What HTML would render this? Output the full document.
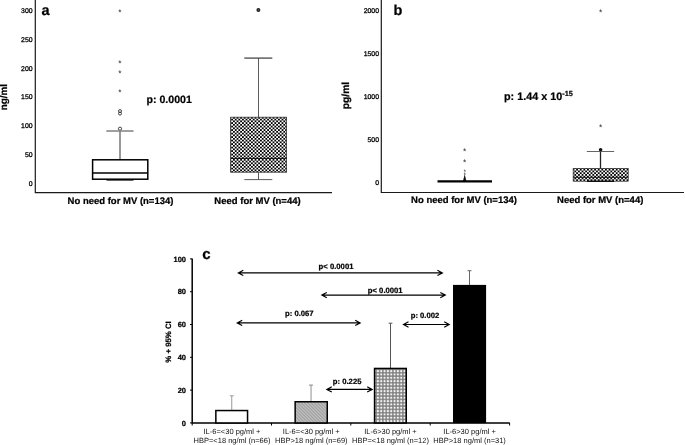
<!DOCTYPE html>
<html><head><meta charset="utf-8">
<style>
html,body{margin:0;padding:0;background:#fff;}
svg{display:block;filter:grayscale(1);text-rendering:geometricPrecision;font-family:"Liberation Sans",sans-serif;}
.b{font-weight:bold;stroke:#000;stroke-width:0.22px}
</style></head><body>
<svg width="685" height="445" viewBox="0 0 685 445">
<defs>
<pattern id="chka" x="231.2" y="118.7" width="3.6" height="3.5" patternUnits="userSpaceOnUse">
<rect width="3.6" height="3.5" fill="#fff"/><rect x="0" y="0" width="1.8" height="1.75" fill="#000"/><rect x="1.8" y="1.75" width="1.8" height="1.75" fill="#000"/>
</pattern>
<pattern id="chkb" x="576.2" y="168.8" width="3.6" height="3.5" patternUnits="userSpaceOnUse">
<rect width="3.6" height="3.5" fill="#fff"/><rect x="0" y="0" width="1.8" height="1.75" fill="#000"/><rect x="1.8" y="1.75" width="1.8" height="1.75" fill="#000"/>
</pattern>
<pattern id="hatch" width="2.3" height="2.3" patternUnits="userSpaceOnUse" patternTransform="rotate(45)">
<rect width="2.3" height="2.3" fill="#c4c4c4"/><rect width="2.3" height="1.15" fill="#9c9c9c"/>
</pattern>
<pattern id="grid" x="376.23" y="369.43" width="3.33" height="3.33" patternUnits="userSpaceOnUse">
<rect width="3.33" height="3.33" fill="#7c7c7c"/><rect x="0.665" y="0.665" width="2" height="2" fill="#f6f6f6"/>
</pattern>
</defs>
<rect width="685" height="445" fill="#fff"/>

<!-- PANEL A -->
<g id="pa">
<path d="M35.3,0 V192.7 H332" fill="none" stroke="#1a1a1a" stroke-width="1.2"/>
<g font-size="6.9" text-anchor="end" fill="#000" stroke="#000" stroke-width="0.28">
<text x="32.6" y="13">300</text><text x="32.6" y="41.8">250</text><text x="32.6" y="70.6">200</text><text x="32.6" y="99.4">150</text><text x="32.6" y="128.2">100</text><text x="32.6" y="157">50</text><text x="32.6" y="185.8">0</text>
</g>
<text class="b" font-size="9.9" text-anchor="middle" transform="translate(7.1,97.1) rotate(-90)">ng/ml</text>
<text class="b" font-size="14.5" x="41.5" y="14.6">a</text>
<g font-size="8.4" text-anchor="middle" fill="#222">
<text x="120" y="14.6">*</text><text x="120" y="66">*</text><text x="120" y="75.8">*</text><text x="120" y="94.7">*</text>
</g>
<g fill="none" stroke="#222" stroke-width="0.85">
<circle cx="120" cy="111.1" r="1.5"/><circle cx="120" cy="113.6" r="1.5"/><circle cx="120" cy="128.7" r="1.6"/>
</g>
<path d="M106.3,131 H133.5 M120,131 V160" stroke="#808080" stroke-width="1.6" fill="none"/>
<path d="M106.5,180 H133.5" stroke="#111" stroke-width="1.3" fill="none"/>
<rect x="92.6" y="159.8" width="55.2" height="19.4" fill="#fff" stroke="#000" stroke-width="1.5"/>
<path d="M92.6,173 H147.8" stroke="#000" stroke-width="1.5"/>
<text class="b" font-size="10.6" x="146.5" y="102.6">p: 0.0001</text>
<text class="b" font-size="9.5" text-anchor="middle" x="120.5" y="203.8">No need for MV (n=134)</text>
<text class="b" font-size="9.5" text-anchor="middle" x="257.5" y="203.8">Need for MV (n=44)</text>
<circle cx="258.4" cy="10" r="2" fill="#222"/><circle cx="258.7" cy="9.9" r="0.5" fill="#999"/>
<path d="M244.3,58.1 H272.3" stroke="#555" stroke-width="1.4" fill="none"/><path d="M258.5,58 V117 M258.5,172.3 V179.6 M244.3,179.6 H272.3" stroke="#4a4a4a" stroke-width="0.9" fill="none"/>
<rect x="230.6" y="117.2" width="56" height="55" fill="url(#chka)" stroke="#333" stroke-width="0.8"/>
<path d="M230.6,158.4 H286.6" stroke="#111" stroke-width="1"/>
</g>

<!-- PANEL B -->
<g id="pb">
<path d="M381.3,0 V192.5 H684" fill="none" stroke="#1a1a1a" stroke-width="1.2"/>
<g font-size="6.9" text-anchor="end" fill="#000" stroke="#000" stroke-width="0.28">
<text x="379" y="13">2000</text><text x="379" y="56">1500</text><text x="379" y="99">1000</text><text x="379" y="142.2">500</text><text x="379" y="185.4">0</text>
</g>
<text class="b" font-size="10.3" text-anchor="middle" transform="translate(349,95.5) rotate(-90)">pg/ml</text>
<text class="b" font-size="14.5" x="393.4" y="14.6">b</text>
<text class="b" font-size="10.8" x="504" y="99.8">p: 1.44 x 10<tspan font-size="7.3" dy="-3.4">-15</tspan></text>
<g font-size="8.4" text-anchor="middle" fill="#222">
<text x="464.7" y="153.6">*</text><text x="464.7" y="165.2">*</text><text x="464.7" y="174.3" font-size="6.5">*</text><text x="464.7" y="176.8" font-size="6.5">*</text>
<text x="600.7" y="14.6">*</text><text x="600.7" y="130">*</text>
</g>
<path d="M464.7,174.2 L466.4,181 H463 Z" fill="#111"/>
<path d="M437.5,181.4 H492" stroke="#000" stroke-width="2.2"/>
<circle cx="600.6" cy="149.8" r="1.8" fill="#111"/>
<path d="M586.8,151.5 H614.2" stroke="#555" stroke-width="0.9" fill="none"/><path d="M600.5,151.5 V168.3" stroke="#222" stroke-width="1.3" fill="none"/>
<rect x="573.2" y="168.4" width="55" height="12.8" fill="url(#chkb)" stroke="#333" stroke-width="0.8"/>
<path d="M587,181.3 H614" stroke="#111" stroke-width="1.4"/>
<path d="M573.2,177.3 H628.2" stroke="#111" stroke-width="0.9"/>
<text class="b" font-size="9.5" text-anchor="middle" x="464" y="203.4">No need for MV (n=134)</text>
<text class="b" font-size="9.5" text-anchor="middle" x="600.2" y="203.4">Need for MV (n=44)</text>
</g>

<!-- PANEL C -->
<g id="pc">
<path d="M192.2,258.5 V423 H509.8" fill="none" stroke="#000" stroke-width="1.5"/>
<path d="M190,258.9 H192 M190,291.7 H192 M190,324.5 H192 M190,357.3 H192 M190,390.1 H192 M190,422.9 H192" stroke="#000" stroke-width="1"/>
<path d="M192.2,423 V425.5 M271.5,423 V425.5 M350.8,423 V425.5 M430.2,423 V425.5 M509.6,423 V425.5" stroke="#000" stroke-width="1"/>
<g class="b" font-size="7.5" text-anchor="end">
<text x="186" y="261.5">100</text><text x="186" y="294.3">80</text><text x="186" y="327.1">60</text><text x="186" y="359.9">40</text><text x="186" y="392.7">20</text><text x="186" y="425.5">0</text>
</g>
<text class="b" font-size="7.8" text-anchor="middle" transform="translate(171.3,342) rotate(-90)">% + 95% CI</text>
<text class="b" font-size="15" x="202.2" y="258.9">c</text>
<!-- error bars -->
<g fill="none" stroke-width="1">
<path d="M231.75,395.8 V411 M229.9,395.8 H233.7" stroke="#999"/>
<path d="M311.05,385.1 V402 M309.1,385.1 H312.9" stroke="#999" stroke-width="1.1"/>
<path d="M390.5,323.2 V368 M388.6,323.2 H392.4" stroke="#555"/>
<path d="M469.5,270.7 V286 M467.5,270.7 H471.5" stroke="#666"/>
</g>
<rect x="215.85" y="410.55" width="31.7" height="12.4" fill="#fff" stroke="#000" stroke-width="1.5"/>
<rect x="295.15" y="401.75" width="32.1" height="21.2" fill="url(#hatch)" stroke="#000" stroke-width="1.5"/>
<rect x="374.55" y="368.45" width="31.7" height="54.5" fill="url(#grid)" stroke="#000" stroke-width="1.5"/>
<rect x="453" y="284.9" width="33.1" height="138.2" fill="#000"/>
<!-- arrows -->
<g stroke="#000" stroke-width="1.15" fill="none" stroke-linejoin="miter">
<path d="M238.3,272.9 H442.4 M243.3,270.2 L238.3,272.9 L243.3,275.6 M437.4,270.2 L442.4,272.9 L437.4,275.6"/>
<path d="M321.8,295.1 H445.3 M326.8,292.4 L321.8,295.1 L326.8,297.8 M440.3,292.4 L445.3,295.1 L440.3,297.8"/>
<path d="M237.2,322.9 H360.2 M242.2,320.2 L237.2,322.9 L242.2,325.6 M355.2,320.2 L360.2,322.9 L355.2,325.6"/>
<path d="M403.5,324.5 H449.2 M408.5,321.8 L403.5,324.5 L408.5,327.2 M444.2,321.8 L449.2,324.5 L444.2,327.2"/>
<path d="M326.8,389.4 H372.2 M331.8,386.7 L326.8,389.4 L331.8,392.1 M367.2,386.7 L372.2,389.4 L367.2,392.1"/>
</g>
<g class="b" font-size="7.7">
<text x="318.6" y="268.9">p&lt; 0.0001</text>
<text x="367.8" y="292.7">p&lt; 0.0001</text>
<text x="285" y="316.4">p: 0.067</text>
<text x="410.7" y="318.3">p: 0.002</text>
<text x="332.8" y="384">p: 0.225</text>
</g>
<g font-size="7.5" text-anchor="middle" fill="#111">
<text x="232" y="434">IL-6=&lt;30 pg/ml +</text><text x="232" y="443.2">HBP=&lt;18 ng/ml (n=66)</text>
<text x="311.3" y="434">IL-6=&lt;30 pg/ml +</text><text x="311.3" y="443.2">HBP&gt;18 ng/ml (n=69)</text>
<text x="390.5" y="434">IL-6&gt;30 pg/ml +</text><text x="390.5" y="443.2">HBP=&lt;18 ng/ml (n=12)</text>
<text x="469.6" y="434">IL-6&gt;30 pg/ml +</text><text x="469.6" y="443.2">HBP&gt;18 ng/ml (n=31)</text>
</g>
</g>
</svg>
</body></html>
